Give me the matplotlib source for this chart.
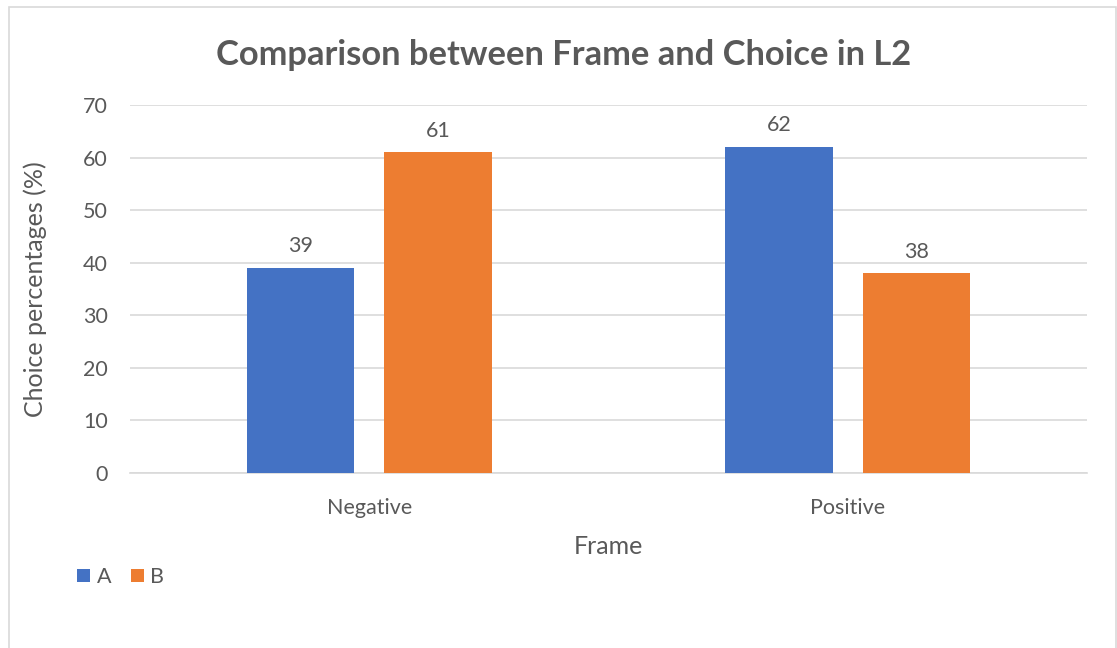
import matplotlib.pyplot as plt
import numpy as np
from matplotlib.patches import Rectangle

plt.rcParams['font.family'] = ['Lato', 'DejaVu Sans']

frames = ["Negative", "Positive"]
choices = ["A", "B"]
a_values = [39, 62]
b_values = [61, 38]
colors = ["#4472C4", "#ED7D31"]
text_color = "#595959"

fig = plt.figure(figsize=(11.17, 6.48), dpi=100)
ax = fig.add_axes([130 / 1117, 1 - 473 / 648, 957 / 1117, 368 / 648])

# chart frame like the office border
fig.patches.append(Rectangle((9 / 1117, -0.05), 1107 / 1117, 1.05 - 7 / 648,
                             transform=fig.transFigure, fill=False,
                             edgecolor="#D9D9D9", linewidth=1.2))

x = np.arange(len(frames))
width = 0.224
gap = 0.063
offset = (width + gap) / 2

for vals, off, color, name in [(a_values, -offset, colors[0], choices[0]),
                               (b_values, offset, colors[1], choices[1])]:
    bars = ax.bar(x + off, vals, width, color=color, label=name, zorder=3)
    for rect, v in zip(bars, vals):
        ax.text(rect.get_x() + rect.get_width() / 2, v + 2.2, str(v),
                ha="center", va="bottom", fontsize=15.5, color=text_color)

ax.set_xlim(-0.5, 1.5)
ax.set_ylim(0, 70)
ax.set_yticks(range(0, 71, 10))
ax.set_xticks(x)
ax.set_xticklabels(frames)
ax.yaxis.grid(True, color="#D9D9D9", linewidth=1.2, zorder=0)
for side in ["top", "right", "left"]:
    ax.spines[side].set_visible(False)
ax.spines["bottom"].set_color("#D9D9D9")
ax.spines["bottom"].set_linewidth(1.2)
ax.tick_params(axis="both", length=0, labelsize=15.5, labelcolor=text_color)
ax.tick_params(axis="x", pad=18)
ax.tick_params(axis="y", pad=16)

ax.set_xlabel("Frame", fontsize=18, color=text_color, labelpad=12)
ax.set_ylabel("Choice percentages (%)", fontsize=18, color=text_color, labelpad=26)

fig.text(564 / 1117, 1 - 55 / 648, "Comparison between Frame and Choice in L2",
         ha="center", va="center", fontsize=24.8, fontweight="bold", color=text_color)

fig.legend(loc="center left", bbox_to_anchor=(58 / 1117, 1 - 577 / 648), ncol=2,
           frameon=False, fontsize=15.5, handlelength=0.6, handleheight=0.6,
           handletextpad=0.3, columnspacing=0.9, labelcolor=text_color)

fig.savefig("out.png", dpi=100)
